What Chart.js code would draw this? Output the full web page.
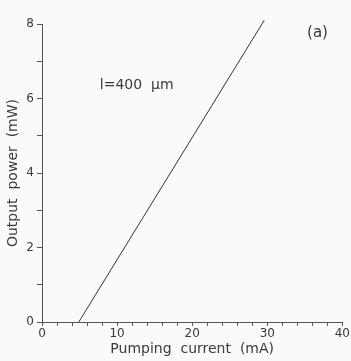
<!DOCTYPE html>
<html>
<head>
<meta charset="utf-8">
<script src="https://cdn.jsdelivr.net/npm/chart.js@4"></script>
<style>
  html, body { margin: 0; padding: 0; background: #fafafa; }
  #wrap { width: 351px; height: 361px; position: relative; }
</style>
</head>
<body>
<div id="wrap"><canvas id="chart"></canvas></div>
<script>
// data
const currentMA = [4.9, 29.6];
const powerMW = [0, 8.1];
const xMajorTicks = [0, 10, 20, 30, 40];
const yMajorTicks = [0, 2, 4, 6, 8];
const lengthLabel = 'l=400  \u03bcm';
const panelLabel = '(a)';

const ink = '#3a3a3a';
const fontFamily = '"DejaVu Sans", sans-serif';

// text labels placed in data coordinates
const labelPlugin = {
  id: 'labels',
  afterDatasetsDraw(chart) {
    const ctx = chart.ctx;
    const xs = chart.scales.x, ys = chart.scales.y;
    ctx.save();
    ctx.fillStyle = ink;
    ctx.textBaseline = 'middle';
    ctx.textAlign = 'left';
    ctx.font = '14px ' + fontFamily;
    ctx.fillText(lengthLabel, xs.getPixelForValue(7.7), ys.getPixelForValue(6.36));
    ctx.font = '15px ' + fontFamily;
    ctx.fillText(panelLabel, xs.getPixelForValue(35.3), ys.getPixelForValue(7.76));
    ctx.restore();
  }
};

new Chart(document.getElementById('chart'), {
  type: 'scatter',
  data: {
    datasets: [{
      data: currentMA.map((x, i) => ({ x: x, y: powerMW[i] })),
      showLine: true,
      borderColor: '#333',
      borderWidth: 1,
      pointRadius: 0,
      clip: false
    }]
  },
  options: {
    responsive: true,
    maintainAspectRatio: false,
    animation: false,
    layout: { padding: { top: 24, right: 8, left: 5, bottom: 0 } },
    plugins: { legend: { display: false }, tooltip: { enabled: false } },
    scales: {
      x: {
        type: 'linear',
        min: 0, max: 40,
        border: { color: '#555', width: 1 },
        grid: { drawOnChartArea: false, drawTicks: true, tickLength: 4, color: '#555' },
        ticks: {
          stepSize: 2,
          autoSkip: false,
          maxRotation: 0,
          padding: 1,
          color: ink,
          font: { family: fontFamily, size: 12 },
          callback: v => xMajorTicks.includes(v) ? String(v) : ''
        },
        title: {
          display: true,
          text: 'Pumping  current  (mA)',
          color: ink,
          font: { family: fontFamily, size: 14 },
          padding: { top: 0, bottom: 3 }
        },
        afterFit(scale) { scale.height = 39; }
      },
      y: {
        type: 'linear',
        min: 0, max: 8,
        border: { color: '#555', width: 1 },
        grid: { drawOnChartArea: false, drawTicks: true, tickLength: 5, color: '#555' },
        ticks: {
          stepSize: 1,
          autoSkip: false,
          padding: 3,
          color: ink,
          font: { family: fontFamily, size: 12 },
          callback: v => yMajorTicks.includes(v) ? String(v) : ''
        },
        title: {
          display: true,
          text: 'Output  power  (mW)',
          color: ink,
          font: { family: fontFamily, size: 14 },
          padding: { top: 0, bottom: 4 }
        },
        afterFit(scale) { scale.width = 37; }
      }
    }
  },
  plugins: [labelPlugin]
});
</script>
</body>
</html>
